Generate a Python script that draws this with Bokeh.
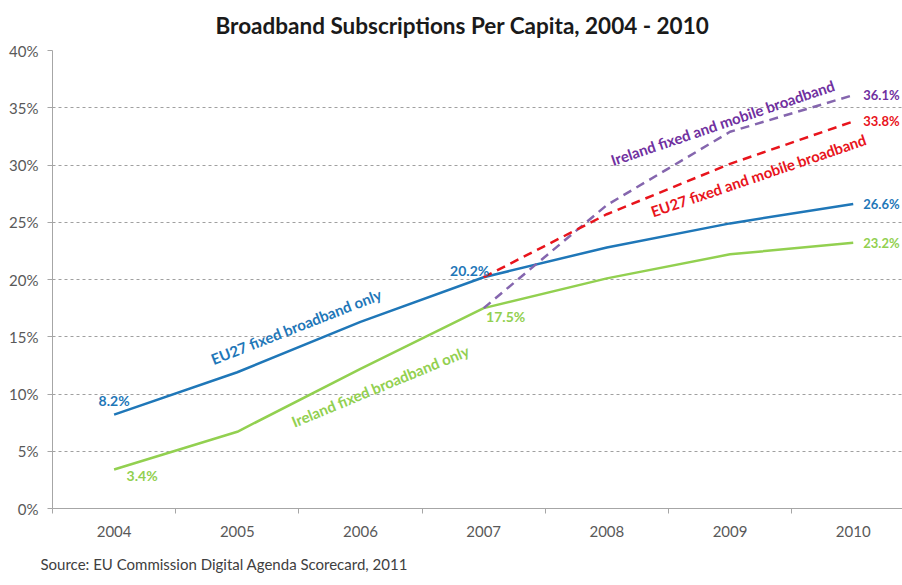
import math
from bokeh.plotting import figure
from bokeh.models import ColumnDataSource, FixedTicker, NumeralTickFormatter, Range1d, Title
from bokeh.core.properties import value
from bokeh.embed import file_html
from bokeh.resources import INLINE

# ---- data ----
years = ["2004", "2005", "2006", "2007", "2008", "2009", "2010"]
eu27_fixed = [0.082, 0.119, 0.163, 0.202, 0.228, 0.249, 0.266]
ireland_fixed = [0.034, 0.067, 0.122, 0.175, 0.201, 0.222, 0.232]
mobile_years = ["2007", "2008", "2009", "2010"]
eu27_fixed_mobile = [0.202, 0.257, 0.301, 0.338]
ireland_fixed_mobile = [0.175, 0.265, 0.329, 0.361]
y_ticks = [0.0, 0.05, 0.10, 0.15, 0.20, 0.25, 0.30, 0.35, 0.40]

series_names = ["EU27 fixed broadband only", "Ireland fixed broadband only",
                "EU27 fixed and mobile broadband", "Ireland fixed and mobile broadband"]

# ---- styles ----
BLUE = "#1F77B8"
GREEN = "#92D050"
RED = "#E8141C"
PURPLE = "#8566AE"
PURPLE_TXT = "#7030A0"
FONT = "Lato"

xi = list(range(len(years)))
xm = [years.index(y) for y in mobile_years]

p = figure(width=902, height=585, output_backend="svg", toolbar_location=None,
           x_range=Range1d(-0.5, 6.4), y_range=Range1d(0, 0.40),
           min_border_left=52, min_border_right=0, min_border_top=50, min_border_bottom=76)
p.outline_line_color = None
p.background_fill_color = "white"
p.border_fill_color = "white"

# title
p.title.text = "Broadband Subscriptions Per Capita, 2004 - 2010"
p.title.align = "left"
p.title.offset = 163
p.title.text_font = FONT
p.title.text_font_size = "22.5px"
p.title.text_font_style = "bold"
p.title.text_color = "#1a1a1a"
p.title.vertical_align = "top"
p.title.standoff = 20

# source note below the axis
src = Title(text="Source: EU Commission Digital Agenda Scorecard, 2011", align="left",
            offset=-12, text_font=FONT, text_font_size="15px", text_font_style="normal",
            text_color="#404040", vertical_align="bottom", standoff=26)
p.add_layout(src, "below")

# axes
xa = p.xaxis[0]
xa.ticker = FixedTicker(ticks=xi, minor_ticks=[i - 0.5 for i in range(len(years) + 1)])
xa.major_label_overrides = {i: y for i, y in zip(xi, years)}
xa.major_tick_out = 0
xa.major_tick_in = 0
xa.minor_tick_out = 5
xa.minor_tick_in = 0
xa.minor_tick_line_color = "#A6A6A6"
xa.axis_line_color = "#A6A6A6"
xa.major_label_text_font = FONT
xa.major_label_text_font_size = "15px"
xa.major_label_text_color = "#595959"
xa.major_label_standoff = 12

ya = p.yaxis[0]
ya.ticker = FixedTicker(ticks=y_ticks)
ya.formatter = NumeralTickFormatter(format="0%")
ya.major_tick_out = 5
ya.major_tick_in = 0
ya.minor_tick_out = 0
ya.minor_tick_in = 0
ya.major_tick_line_color = "#A6A6A6"
ya.axis_line_color = "#A6A6A6"
ya.major_label_text_font = FONT
ya.major_label_text_font_size = "15px"
ya.major_label_text_color = "#595959"
ya.major_label_standoff = 9

p.xgrid.grid_line_color = None
p.ygrid.grid_line_color = "#A0A0A0"
p.ygrid.grid_line_dash = "3 3"
p.ygrid.grid_line_width = 1

# lines
p.line(xi, ireland_fixed, line_color=GREEN, line_width=2.5)
p.line(xi, eu27_fixed, line_color=BLUE, line_width=2.5)
p.line(xm, ireland_fixed_mobile, line_color=PURPLE, line_width=2.5, line_dash="9 6")
p.line(xm, eu27_fixed_mobile, line_color=RED, line_width=2.5, line_dash="9 6")

def pct(v):
    return "%.1f%%" % (v * 100)

# value labels at points
vl = ColumnDataSource(dict(
    x=[0, 0, 3, 3],
    y=[eu27_fixed[0], ireland_fixed[0], eu27_fixed[3], ireland_fixed[3]],
    t=[pct(eu27_fixed[0]), pct(ireland_fixed[0]), pct(eu27_fixed[3]), pct(ireland_fixed[3])],
    c=[BLUE, GREEN, BLUE, GREEN],
    xo=[0, 28, -14, 22],
    yo=[-14, 6, -7, 8],
))
p.text(x="x", y="y", text="t", text_color="c", x_offset="xo", y_offset="yo",
       text_align="center", text_baseline="middle", text_font=value(FONT),
       text_font_size="14px", text_font_style="bold", source=vl)

# end-of-line labels
el = ColumnDataSource(dict(
    x=[6, 6, 6, 6],
    y=[ireland_fixed_mobile[-1], eu27_fixed_mobile[-1], eu27_fixed[-1], ireland_fixed[-1]],
    t=[pct(ireland_fixed_mobile[-1]), pct(eu27_fixed_mobile[-1]), pct(eu27_fixed[-1]), pct(ireland_fixed[-1])],
    c=[PURPLE_TXT, RED, BLUE, GREEN],
))
p.text(x="x", y="y", text="t", text_color="c", x_offset=10, y_offset=0,
       text_align="left", text_baseline="middle", text_font=value(FONT),
       text_font_size="13px", text_font_style="bold", source=el)

# series labels along the lines
sl = ColumnDataSource(dict(
    x=[1.478, 2.16, 5.23, 4.94],
    y=[0.159, 0.107, 0.291, 0.337],
    t=series_names,
    c=[BLUE, GREEN, RED, PURPLE_TXT],
    a=[math.radians(21.4), math.radians(22.4), math.radians(18.8), math.radians(18.8)],
))
p.text(x="x", y="y", text="t", text_color="c", angle="a", text_align="center",
       text_baseline="middle", text_font=value(FONT), text_font_size="15px",
       text_font_style="bold", source=sl)

open("out.html", "w").write(file_html(p, INLINE))
